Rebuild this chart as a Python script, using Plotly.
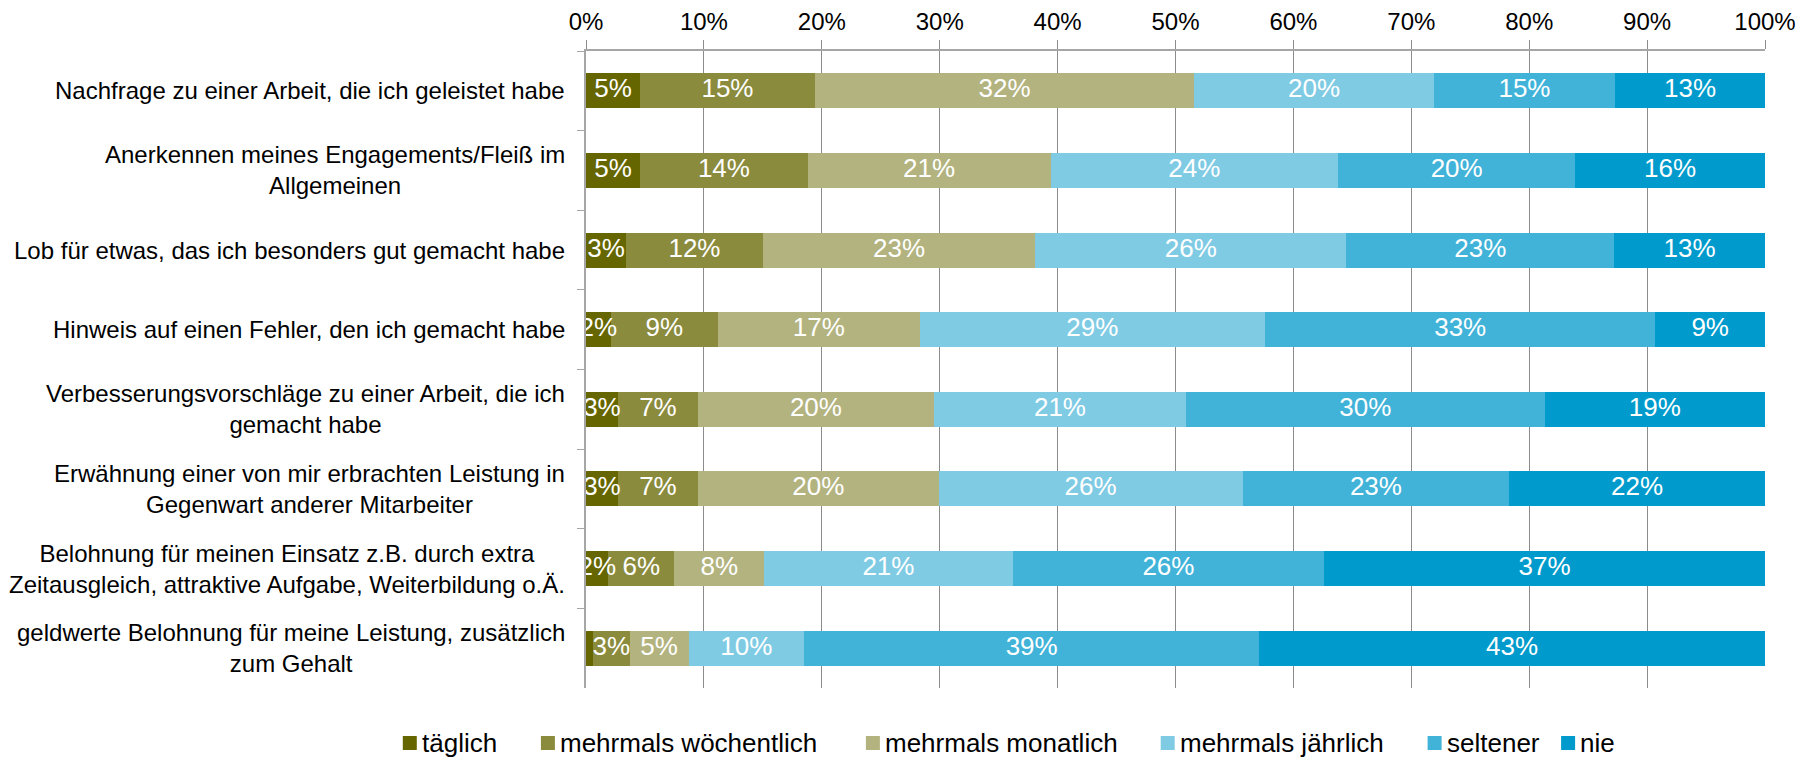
import plotly.graph_objects as go

# ---------------- data ----------------
categories = [
    "Nachfrage zu einer Arbeit, die ich geleistet habe",
    "Anerkennen meines Engagements/Fleiß im<br>Allgemeinen",
    "Lob für etwas, das ich besonders gut gemacht habe",
    "Hinweis auf einen Fehler, den ich gemacht habe",
    "Verbesserungsvorschläge zu einer Arbeit, die ich<br>gemacht habe",
    "Erwähnung einer von mir erbrachten Leistung in<br>Gegenwart anderer Mitarbeiter",
    "Belohnung für meinen Einsatz z.B. durch extra<br>Zeitausgleich, attraktive Aufgabe, Weiterbildung o.Ä.",
    "geldwerte Belohnung für meine Leistung, zusätzlich<br>zum Gehalt",
]
series_names = ["täglich", "mehrmals wöchentlich", "mehrmals monatlich",
                "mehrmals jährlich", "seltener", "nie"]
taeglich     = [4.6, 4.6, 3.4, 2.1, 2.7, 2.7, 1.9, 0.6]
woechentlich = [14.8, 14.2, 11.6, 9.1, 6.8, 6.8, 5.6, 3.1]
monatlich    = [32.2, 20.6, 23.1, 17.1, 20.0, 20.4, 7.6, 5.0]
jaehrlich    = [20.3, 24.4, 26.4, 29.3, 21.4, 25.8, 21.1, 9.8]
seltener     = [15.4, 20.1, 22.7, 33.1, 30.4, 22.6, 26.4, 38.6]
nie          = [12.7, 16.1, 12.8, 9.3, 18.7, 21.7, 37.4, 42.9]
tick_values  = [0, 10, 20, 30, 40, 50, 60, 70, 80, 90, 100]
tick_labels  = ["0%", "10%", "20%", "30%", "40%", "50%", "60%", "70%", "80%", "90%", "100%"]

series_values = [taeglich, woechentlich, monatlich, jaehrlich, seltener, nie]
colors = ["#666600", "#8B8B3E", "#B3B37F", "#80CBE4", "#41B3D9", "#009BCC"]

FONT = "Liberation Sans, Arial, sans-serif"
FS = 24
FS_LAB = 26

W, H = 1820, 759
ML, MR, MT, MB = 586, 55, 51, 71
PW, PH = W - ML - MR, H - MT - MB

def px_to_paper_x(px):
    return (px - ML) / PW

def px_to_paper_y(py):
    return (H - MB - py) / PH

fig = go.Figure()

for name, vals, col in zip(series_names, series_values, colors):
    fig.add_trace(go.Bar(
        name=name, y=categories, x=vals, orientation="h",
        marker=dict(color=col, line=dict(width=0)),
        hoverinfo="x+name", showlegend=False,
    ))

# value labels (drawn above all bars, clipped to plot area)
lefts = [0.0] * len(categories)
lab_x, lab_y, lab_t = [], [], []
for vals in series_values:
    for i, v in enumerate(vals):
        lab_x.append(lefts[i] + v / 2)
        lab_y.append(categories[i])
        lab_t.append(f"{round(v)}%" if v >= 1 else "")
        lefts[i] += v
fig.add_trace(go.Scatter(
    x=lab_x, y=lab_y, text=lab_t, mode="text",
    textposition="middle center",
    textfont=dict(color="white", size=FS_LAB, family=FONT),
    showlegend=False, hoverinfo="skip", cliponaxis=True,
))

# category labels (centered multi-line)
for c in categories:
    fig.add_annotation(
        x=0, xref="paper", y=c, yref="y", xanchor="right", yanchor="middle",
        xshift=-19, text=c, showarrow=False, align="center",
        font=dict(size=FS, color="black", family=FONT),
    )

# legend (drawn manually to match the original spacing)
legend_square_px = [402.8, 540.9, 865.9, 1160.7, 1427.6, 1561.1]
legend_y_px = 743
sq = 14
for name, col, sx in zip(series_names, colors, legend_square_px):
    fig.add_shape(
        type="rect", xref="paper", yref="paper",
        x0=px_to_paper_x(sx), x1=px_to_paper_x(sx + sq),
        y0=px_to_paper_y(legend_y_px + sq / 2), y1=px_to_paper_y(legend_y_px - sq / 2),
        fillcolor=col, line=dict(width=0),
    )
    fig.add_annotation(
        x=px_to_paper_x(sx + sq + 3), xref="paper",
        y=px_to_paper_y(legend_y_px), yref="paper",
        xanchor="left", yanchor="middle", text=name, showarrow=False,
        font=dict(size=FS_LAB, color="black", family=FONT),
    )

fig.update_layout(
    template="none",
    width=W, height=H,
    margin=dict(l=ML, r=MR, t=MT, b=MB, autoexpand=False),
    barmode="stack", bargap=0.56,
    plot_bgcolor="white", paper_bgcolor="white",
    font=dict(family=FONT, size=FS, color="black"),
    showlegend=False,
    xaxis=dict(
        side="top", range=[0, 100], tickmode="array",
        tickvals=tick_values, ticktext=tick_labels,
        showgrid=True, gridcolor="#8C8C8C", gridwidth=1,
        showline=True, linecolor="#A6A6A6", linewidth=2,
        ticks="outside", ticklen=9, tickcolor="#8C8C8C", tickwidth=1,
        tickfont=dict(size=FS, color="black"), zeroline=False,
        fixedrange=True, automargin=False,
    ),
    yaxis=dict(
        autorange="reversed", showticklabels=False,
        showline=True, linecolor="#A6A6A6", linewidth=2,
        ticks="outside", tickson="boundaries", ticklen=7, tickcolor="#A6A6A6",
        tickwidth=1, showgrid=False, zeroline=False,
        fixedrange=True, automargin=False,
    ),
)

fig.write_html(
    "out.html",
    config={"displayModeBar": False},
    post_script="document.body.style.margin='0';document.body.style.padding='0';",
)
